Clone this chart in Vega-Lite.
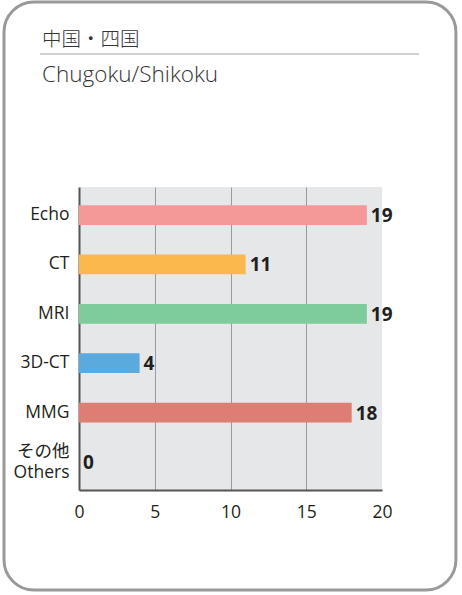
{
  "$schema": "https://vega.github.io/schema/vega-lite/v6.json",
  "width": 303,
  "height": 303,
  "autosize": "none",
  "padding": {"left": 79, "top": 187, "right": 80, "bottom": 105},
  "background": "white",
  "config": {
    "view": {"fill": "#e6e7e8", "stroke": null},
    "font": "Open Sans, Noto Sans CJK JP, sans-serif"
  },
  "resolve": {"scale": {"y": "independent"}, "axis": {"y": "independent"}},
  "layer": [
    {
      "data": {"values": [{"frame": "outer"}]},
      "mark": {"type": "rect", "fill": "white", "fillOpacity": 0, "stroke": "#999999", "strokeWidth": 3, "cornerRadius": 30},
      "encoding": {
        "x": {"datum": -4.95, "type": "quantitative", "scale": {"domain": [0, 20], "nice": false, "zero": false}},
        "x2": {"datum": 24.88},
        "y": {"datum": 1.6106, "type": "quantitative", "scale": {"domain": [0, 1], "nice": false, "zero": false}, "axis": null},
        "y2": {"datum": -0.33}
      }
    },
    {
      "data": {"values": [{"frame": "rule"}]},
      "mark": {"type": "rule", "color": "#a0a0a0", "strokeWidth": 1},
      "encoding": {
        "x": {"datum": -2.574, "type": "quantitative", "scale": {"domain": [0, 20], "nice": false, "zero": false}},
        "x2": {"datum": 22.44},
        "y": {"datum": 1.4389, "type": "quantitative", "scale": {"domain": [0, 1], "nice": false, "zero": false}, "axis": null}
      }
    },
    {
      "data": {"values": [{"title": "中国・四国", "pos": 1.4653}]},
      "mark": {"type": "text", "align": "left", "baseline": "alphabetic", "fontSize": 19.5, "color": "#333333", "font": "Noto Sans CJK JP, sans-serif", "fontWeight": 300},
      "encoding": {
        "x": {"datum": -2.442, "type": "quantitative", "scale": {"domain": [0, 20], "nice": false, "zero": false}},
        "y": {"field": "pos", "type": "quantitative", "scale": {"domain": [0, 1], "nice": false, "zero": false}, "axis": null},
        "text": {"field": "title"}
      }
    },
    {
      "data": {"values": [{"title": "Chugoku/Shikoku", "pos": 1.3465}]},
      "mark": {"type": "text", "align": "left", "baseline": "alphabetic", "fontSize": 22.5, "color": "#333333", "font": "Open Sans, sans-serif", "fontWeight": 300},
      "encoding": {
        "x": {"datum": -2.442, "type": "quantitative", "scale": {"domain": [0, 20], "nice": false, "zero": false}},
        "y": {"field": "pos", "type": "quantitative", "scale": {"domain": [0, 1], "nice": false, "zero": false}, "axis": null},
        "text": {"field": "title"}
      }
    },
    {
      "data": {
        "values": [
          {"category": "Echo", "value": 19},
          {"category": "CT", "value": 11},
          {"category": "MRI", "value": 19},
          {"category": "3D-CT", "value": 4},
          {"category": "MMG", "value": 18},
          {"category": "その他 Others", "value": 0}
        ]
      },
      "encoding": {
        "y": {
          "field": "category",
          "type": "nominal",
          "sort": null,
          "scale": {"paddingInner": 0.6, "paddingOuter": 0.37},
          "axis": {
            "title": null,
            "labelExpr": "split(datum.label, ' ')",
            "labelFontSize": 17.5,
            "labelFontWeight": "normal",
            "labelColor": "#231f20",
            "labelPadding": 10,
            "labelLineHeight": 21,
            "labelOffset": {"condition": {"test": "datum.value == 'その他 Others'", "value": -10}, "value": 0},
            "ticks": false,
            "domainColor": "#555555",
            "domainWidth": 2,
            "grid": false
          }
        },
        "x": {
          "field": "value",
          "type": "quantitative",
          "scale": {"domain": [0, 20], "nice": false, "zero": false},
          "axis": {
            "title": null,
            "values": [0, 5, 10, 15, 20],
            "labelFlush": false,
            "labelFontSize": 17.5,
            "labelColor": "#231f20",
            "labelPadding": 13,
            "ticks": false,
            "domainColor": "#555555",
            "domainWidth": 2,
            "grid": true,
            "gridColor": "#9a9a9a",
            "gridWidth": 1,
            "gridOpacity": {"condition": {"test": "datum.value == 20 || datum.value == 0", "value": 0}, "value": 1}
          }
        }
      },
      "layer": [
        {
          "mark": {"type": "bar"},
          "encoding": {
            "color": {
              "field": "category",
              "type": "nominal",
              "scale": {
                "domain": ["Echo", "CT", "MRI", "3D-CT", "MMG", "その他 Others"],
                "range": ["#f59998", "#fbb84c", "#7ecb9b", "#5aaade", "#de7d73", "#999999"]
              },
              "legend": null
            }
          }
        },
        {
          "mark": {"type": "text", "align": "left", "baseline": "middle", "dx": 4, "dy": 1, "fontSize": 19, "fontWeight": "bold", "color": "#231f20"},
          "encoding": {
            "text": {"field": "value", "type": "quantitative"},
            "xOffset": {"condition": {"test": "datum.value == 0", "value": 8}, "value": 0}
          }
        }
      ]
    }
  ]
}
